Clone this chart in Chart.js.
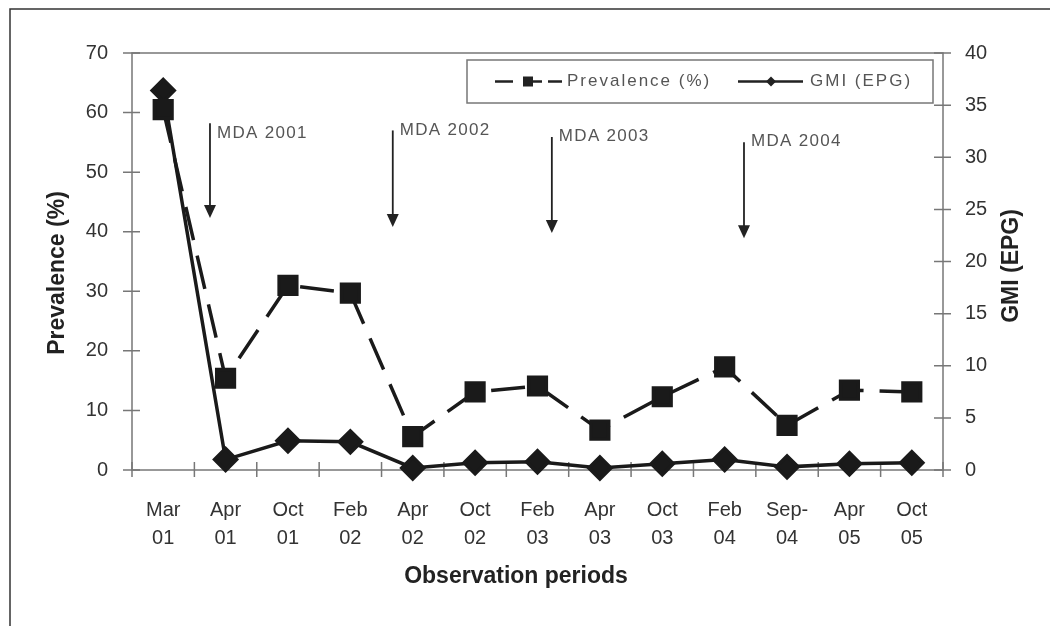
<!DOCTYPE html>
<html>
<head>
<meta charset="utf-8">
<script src="https://cdn.jsdelivr.net/npm/chart.js@4.4.1/dist/chart.umd.min.js"></script>
<style>
  html, body { margin: 0; padding: 0; background: #fff; }
  #wrap { width: 1051px; height: 626px; }
</style>
</head>
<body>
<div id="wrap"><canvas id="chart" width="1051" height="626"></canvas></div>
<script>
const periods = [["Mar", "01"], ["Apr", "01"], ["Oct", "01"], ["Feb", "02"], ["Apr", "02"], ["Oct", "02"],
  ["Feb", "03"], ["Apr", "03"], ["Oct", "03"], ["Feb", "04"], ["Sep-", "04"], ["Apr", "05"], ["Oct", "05"]];
const prevalence = [60.5, 15.4, 31, 29.7, 5.6, 13.1, 14.1, 6.7, 12.3, 17.3, 7.5, 13.4, 13.1];
const gmi = [36.4, 1.0, 2.8, 2.7, 0.2, 0.7, 0.8, 0.2, 0.6, 1.0, 0.3, 0.6, 0.7];
const prevMax = 70, prevStep = 10;
const gmiMax = 40, gmiStep = 5;

// MDA arrows: position on the period axis (index) and on the prevalence axis
const mdaLabels = ["MDA 2001", "MDA 2002", "MDA 2003", "MDA 2004"];
const mdaAt = [0.75, 3.68, 6.23, 9.31];
const mdaTop = [58.2, 57, 55.9, 55];
const mdaTip = [42.3, 40.8, 39.8, 38.9];
const mdaText = [56.5, 57, 56, 55.2];

Chart.defaults.font.family = "'Liberation Sans', Arial, sans-serif";
Chart.defaults.color = "#333";

const frame = {
  id: "frame",
  beforeDraw(chart) {
    const ctx = chart.ctx;
    ctx.save();
    ctx.strokeStyle = "#333";
    ctx.lineWidth = 1.5;
    ctx.beginPath();
    ctx.moveTo(10, 626);
    ctx.lineTo(10, 9);
    ctx.lineTo(1050, 9);
    ctx.stroke();
    ctx.restore();
  },
  beforeDatasetsDraw(chart) {
    const { ctx, chartArea: a, scales } = chart;
    ctx.save();
    ctx.strokeStyle = "#777";
    ctx.lineWidth = 1.5;
    ctx.strokeRect(a.left, a.top, a.right - a.left, a.bottom - a.top);
    ctx.beginPath();
    scales.y.ticks.forEach((t, i) => {
      const py = scales.y.getPixelForTick(i);
      ctx.moveTo(a.left - 9, py); ctx.lineTo(a.left + 8, py);
    });
    scales.y1.ticks.forEach((t, i) => {
      const py = scales.y1.getPixelForTick(i);
      ctx.moveTo(a.right - 9, py); ctx.lineTo(a.right + 8, py);
    });
    for (let i = 0; i <= periods.length; i++) {
      const px = scales.x.getPixelForValue(i - 0.5);
      ctx.moveTo(px, a.bottom - 8); ctx.lineTo(px, a.bottom + 7);
    }
    ctx.stroke();

    // axis titles
    ctx.fillStyle = "#222";
    ctx.font = "bold 23px 'Liberation Sans', Arial, sans-serif";
    ctx.textAlign = "center";
    ctx.textBaseline = "middle";
    ctx.fillText("Observation periods", 516, 577);
    ctx.translate(58, 273);
    ctx.rotate(-Math.PI / 2);
    ctx.fillText("Prevalence (%)", 0, 0);
    ctx.setTransform(1, 0, 0, 1, 0, 0);
    ctx.translate(1012, 266);
    ctx.rotate(-Math.PI / 2);
    ctx.fillText("GMI (EPG)", 0, 0);
    ctx.restore();
  },
  afterDatasetsDraw(chart) {
    const { ctx, chartArea: a, scales } = chart;
    ctx.save();
    // MDA arrows
    ctx.strokeStyle = "#222";
    ctx.fillStyle = "#222";
    ctx.lineWidth = 1.8;
    ctx.font = "17px 'Liberation Sans', Arial, sans-serif";
    ctx.letterSpacing = "1.3px";
    ctx.textBaseline = "middle";
    ctx.textAlign = "left";
    mdaLabels.forEach((lab, i) => {
      const px = scales.x.getPixelForValue(mdaAt[i]);
      const top = scales.y.getPixelForValue(mdaTop[i]);
      const tip = scales.y.getPixelForValue(mdaTip[i]);
      ctx.beginPath();
      ctx.moveTo(px, top); ctx.lineTo(px, tip - 10);
      ctx.stroke();
      ctx.beginPath();
      ctx.moveTo(px - 6, tip - 13); ctx.lineTo(px + 6, tip - 13); ctx.lineTo(px, tip);
      ctx.closePath();
      ctx.fill();
      ctx.fillStyle = "#555";
      ctx.fillText(lab, px + 7, scales.y.getPixelForValue(mdaText[i]));
      ctx.fillStyle = "#222";
    });

    // legend box
    const bx = a.right - 476, by = a.top + 7, bw = 466, bh = 43, cy = by + bh / 2;
    ctx.fillStyle = "#fff";
    ctx.fillRect(bx, by, bw, bh);
    ctx.strokeStyle = "#777";
    ctx.lineWidth = 1.5;
    ctx.strokeRect(bx, by, bw, bh);
    ctx.strokeStyle = "#222";
    ctx.fillStyle = "#222";
    ctx.lineWidth = 2.5;
    ctx.beginPath();
    ctx.moveTo(bx + 28, cy); ctx.lineTo(bx + 46, cy);
    ctx.moveTo(bx + 56, cy); ctx.lineTo(bx + 75, cy);
    ctx.moveTo(bx + 81, cy); ctx.lineTo(bx + 95, cy);
    ctx.moveTo(bx + 271, cy); ctx.lineTo(bx + 336, cy);
    ctx.stroke();
    ctx.fillRect(bx + 56, cy - 5, 10, 10);
    ctx.beginPath();
    ctx.moveTo(bx + 304, cy - 5); ctx.lineTo(bx + 309, cy); ctx.lineTo(bx + 304, cy + 5); ctx.lineTo(bx + 299, cy);
    ctx.closePath();
    ctx.fill();
    ctx.fillStyle = "#555";
    ctx.font = "17px 'Liberation Sans', Arial, sans-serif";
    ctx.letterSpacing = "2px";
    ctx.fillText("Prevalence (%)", bx + 100, cy);
    ctx.fillText("GMI (EPG)", bx + 343, cy);
    ctx.restore();
  }
};

new Chart(document.getElementById("chart"), {
  type: "line",
  data: {
    labels: periods,
    datasets: [
      {
        label: "Prevalence (%)",
        data: prevalence,
        yAxisID: "y",
        borderColor: "#1a1a1a",
        backgroundColor: "#1a1a1a",
        borderWidth: 3.5,
        borderDash: [34, 16],
        pointStyle: "rect",
        pointRadius: 12.5,
        pointHoverRadius: 12.5,
        tension: 0,
        clip: false
      },
      {
        label: "GMI (EPG)",
        data: gmi,
        yAxisID: "y1",
        borderColor: "#1a1a1a",
        backgroundColor: "#1a1a1a",
        borderWidth: 3.5,
        pointStyle: "rectRot",
        pointRadius: 11,
        pointHoverRadius: 11,
        tension: 0,
        clip: false
      }
    ]
  },
  options: {
    responsive: false,
    animation: false,
    layout: { padding: { top: 53, left: 0, right: 0, bottom: 0 } },
    plugins: {
      legend: { display: false },
      tooltip: { enabled: false }
    },
    scales: {
      x: {
        offset: true,
        grid: { display: false },
        border: { display: false },
        ticks: { font: { size: 20, lineHeight: 1.4 }, padding: 18, maxRotation: 0, autoSkip: false },
        afterFit(s) { s.height = 156; }
      },
      y: {
        position: "left",
        min: 0,
        max: prevMax,
        grid: { display: false },
        border: { display: false },
        ticks: { stepSize: prevStep, font: { size: 20 }, padding: 16 },
        afterFit(s) { s.width = 132; }
      },
      y1: {
        position: "right",
        min: 0,
        max: gmiMax,
        grid: { display: false },
        border: { display: false },
        ticks: { stepSize: gmiStep, font: { size: 20 }, padding: 14 },
        afterFit(s) { s.width = 108; }
      }
    }
  },
  plugins: [frame]
});
</script>
</body>
</html>
